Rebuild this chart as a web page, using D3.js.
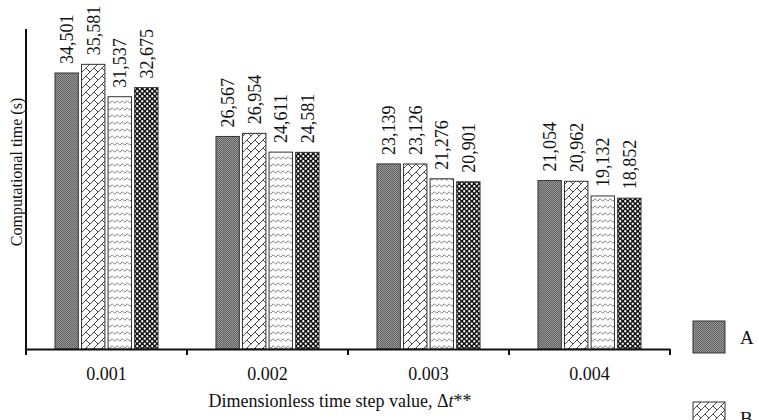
<!DOCTYPE html>
<html>
<head>
<meta charset="utf-8">
<script src="https://cdn.jsdelivr.net/npm/d3@7"></script>
<style>
  body { margin: 0; background: #fff; }
  svg { display: block; font-family: "Liberation Serif", "Times New Roman", serif; }
</style>
</head>
<body>
<svg id="chart"></svg>
<script>
const categories = ["0.001", "0.002", "0.003", "0.004"];
const seriesNames = ["A", "B", "C", "D"];
const valuesA = [34501, 26567, 23139, 21054];
const valuesB = [35581, 26954, 23126, 20962];
const valuesC = [31537, 24611, 21276, 19132];
const valuesD = [32675, 24581, 20901, 18852];
const seriesValues = [valuesA, valuesB, valuesC, valuesD];

const width = 759;
const height = 420;
const plotLeft = 26, plotRight = 670, plotTop = 29, plotBottom = 349;

const svg = d3.select("#chart").attr("width", width).attr("height", height);

// Fill patterns, one per series
const defs = svg.append("defs");

const pA = defs.append("pattern").attr("id", "pat-A")
  .attr("patternUnits", "userSpaceOnUse").attr("width", 2).attr("height", 2);
pA.append("rect").attr("width", 2).attr("height", 2).attr("fill", "#979797");
pA.append("rect").attr("width", 1).attr("height", 1).attr("fill", "#5a5a5a");
pA.append("rect").attr("x", 1).attr("y", 1).attr("width", 1).attr("height", 1).attr("fill", "#6a6a6a");

const pB = defs.append("pattern").attr("id", "pat-B")
  .attr("patternUnits", "userSpaceOnUse").attr("width", 8).attr("height", 8);
pB.append("rect").attr("width", 8).attr("height", 8).attr("fill", "#fff");
pB.append("path").attr("d", "M0,8 L8,0 M4,4 L8,8 M-1,1 L1,-1 M7,9 L9,7")
  .attr("stroke", "#333").attr("stroke-width", 0.9).attr("fill", "none");

const pC = defs.append("pattern").attr("id", "pat-C")
  .attr("patternUnits", "userSpaceOnUse").attr("width", 5).attr("height", 7);
pC.append("rect").attr("width", 5).attr("height", 7).attr("fill", "#fff");
pC.append("path").attr("d", "M0,4 Q1.25,1.5 2.5,4 T5,4")
  .attr("stroke", "#777").attr("stroke-width", 0.9).attr("fill", "none");

const pD = defs.append("pattern").attr("id", "pat-D")
  .attr("patternUnits", "userSpaceOnUse").attr("width", 5).attr("height", 5);
pD.append("rect").attr("width", 5).attr("height", 5).attr("fill", "#111");
pD.append("circle").attr("cx", 1.25).attr("cy", 1.25).attr("r", 1.15).attr("fill", "#fff");
pD.append("circle").attr("cx", 3.75).attr("cy", 3.75).attr("r", 1.15).attr("fill", "#fff");

// Scales
const x0 = d3.scaleBand().domain(categories).range([plotLeft, plotRight]).padding(0);
const x1 = d3.scaleBand().domain(seriesNames)
  .range([x0.bandwidth() * 0.18, x0.bandwidth() * 0.82])
  .paddingInner(0.12);
const y = d3.scaleLinear().domain([0, 40000]).range([plotBottom, plotTop]);

const fmt = d3.format(",");

// Bars
const groups = svg.selectAll(".group")
  .data(categories)
  .enter()
  .append("g")
  .attr("class", "group")
  .attr("transform", (d) => `translate(${x0(d)},0)`);

const rowData = (d, i) => seriesNames.map((s, j) => ({ series: s, value: seriesValues[j][i] }));

groups.selectAll("rect")
  .data(rowData)
  .enter()
  .append("rect")
  .attr("x", (d) => x1(d.series))
  .attr("y", (d) => y(d.value))
  .attr("width", x1.bandwidth())
  .attr("height", (d) => plotBottom - y(d.value))
  .attr("fill", (d) => `url(#pat-${d.series})`)
  .attr("stroke", "#333")
  .attr("stroke-width", 1);

// Value labels, rotated
groups.selectAll(".val")
  .data(rowData)
  .enter()
  .append("text")
  .attr("class", "val")
  .attr("transform", (d) => `translate(${x1(d.series) + x1.bandwidth() / 2},${y(d.value) - 9}) rotate(-90)`)
  .attr("dy", "0.35em")
  .attr("text-anchor", "start")
  .attr("font-size", 18)
  .attr("fill", "#111")
  .text((d) => fmt(d.value));

// Axes
svg.append("line")
  .attr("x1", plotLeft).attr("x2", plotLeft)
  .attr("y1", plotTop).attr("y2", plotBottom)
  .attr("stroke", "#111").attr("stroke-width", 2);

const xAxis = svg.append("g")
  .attr("transform", `translate(0,${plotBottom})`)
  .call(d3.axisBottom(x0).tickSize(0).tickPadding(18));
xAxis.select(".domain").attr("stroke", "#111").attr("stroke-width", 2);
xAxis.selectAll("text")
  .attr("font-size", 18)
  .attr("font-family", "Liberation Serif, Times New Roman, serif")
  .attr("fill", "#111");

// Tick marks at group boundaries
const boundaries = categories.map((c) => x0(c)).concat([plotRight]);
svg.selectAll(".btick")
  .data(boundaries)
  .enter()
  .append("line")
  .attr("class", "btick")
  .attr("x1", (d) => d).attr("x2", (d) => d)
  .attr("y1", plotBottom).attr("y2", plotBottom + 6)
  .attr("stroke", "#111").attr("stroke-width", 2);

// Axis titles
const xTitle = svg.append("text")
  .attr("x", 340)
  .attr("y", 407)
  .attr("text-anchor", "middle")
  .attr("font-size", 18)
  .attr("fill", "#111")
  .text("Dimensionless time step value, \u0394");
xTitle.append("tspan").attr("font-style", "italic").text("t");
xTitle.append("tspan").text("**");

svg.append("text")
  .attr("transform", "translate(22,172) rotate(-90)")
  .attr("text-anchor", "middle")
  .attr("font-size", 16)
  .attr("fill", "#111")
  .text("Computational time (s)");

// Legend (it runs past the bottom edge, only the first entries show)
const legendStep = 81;
const legendItems = seriesNames.filter((d, i) => 321 + i * legendStep < height);
const legend = svg.selectAll(".legend")
  .data(legendItems)
  .enter()
  .append("g")
  .attr("class", "legend")
  .attr("transform", (d, i) => `translate(693,${321 + i * legendStep})`);

legend.append("rect")
  .attr("width", 32).attr("height", 32)
  .attr("fill", (d) => `url(#pat-${d})`)
  .attr("stroke", "#333").attr("stroke-width", 1);

legend.append("text")
  .attr("x", 47)
  .attr("y", 16)
  .attr("dy", "0.35em")
  .attr("font-size", 19)
  .attr("fill", "#111")
  .text((d) => d);
</script>
</body>
</html>
